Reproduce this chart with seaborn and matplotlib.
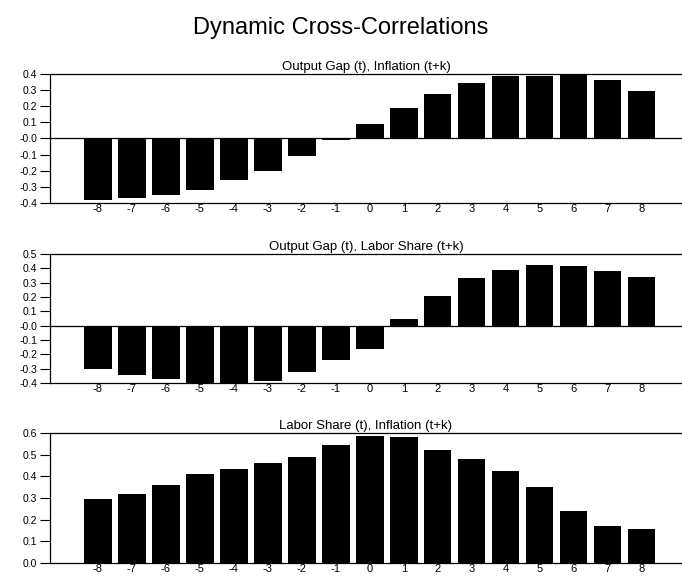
import numpy as np
import pandas as pd
import matplotlib
matplotlib.use("Agg")
import matplotlib.pyplot as plt
import seaborn as sns

lags = list(range(-8, 9))

gap_infl = [-0.38, -0.37, -0.35, -0.32, -0.26, -0.20, -0.11, -0.01, 0.09,
            0.19, 0.275, 0.345, 0.385, 0.385, 0.395, 0.36, 0.295]
gap_ls = [-0.30, -0.345, -0.375, -0.40, -0.40, -0.385, -0.325, -0.24, -0.16,
          0.05, 0.21, 0.335, 0.39, 0.42, 0.415, 0.38, 0.34]
ls_infl = [0.295, 0.32, 0.36, 0.41, 0.435, 0.46, 0.49, 0.545, 0.585,
           0.58, 0.52, 0.48, 0.425, 0.35, 0.24, 0.17, 0.155]

titles = ["Output Gap (t), Inflation (t+k)",
          "Output Gap (t), Labor Share (t+k)",
          "Labor Share (t), Inflation (t+k)"]
yticks1 = [0.4, 0.3, 0.2, 0.1, 0.0, -0.1, -0.2, -0.3, -0.4]
ylabels1 = ["0.4", "0.3", "0.2", "0.1", "-0.0", "-0.1", "-0.2", "-0.3", "-0.4"]
yticks2 = [0.5, 0.4, 0.3, 0.2, 0.1, 0.0, -0.1, -0.2, -0.3, -0.4]
ylabels2 = ["0.5", "0.4", "0.3", "0.2", "0.1", "-0.0", "-0.1", "-0.2", "-0.3", "-0.4"]
yticks3 = [0.6, 0.5, 0.4, 0.3, 0.2, 0.1, 0.0]
ylabels3 = ["0.6", "0.5", "0.4", "0.3", "0.2", "0.1", "0.0"]

sns.set_style("white")
plt.rcParams["font.family"] = ["Liberation Sans", "DejaVu Sans"]
plt.rcParams["text.color"] = "black"
plt.rcParams["xtick.color"] = "black"
plt.rcParams["ytick.color"] = "black"

fig = plt.figure(figsize=(6.82, 5.76), dpi=100)
fig.text(0.5, 0.951, "Dynamic Cross-Correlations", ha="center", va="center",
         fontsize=17)

panels = [
    (gap_infl, (-0.4, 0.4), yticks1, ylabels1, [0.0733, 0.6476, 0.9267, 0.224]),
    (gap_ls, (-0.4, 0.5), yticks2, ylabels2, [0.0733, 0.335, 0.9267, 0.224]),
    (ls_infl, (0.0, 0.6), yticks3, ylabels3, [0.0733, 0.0226, 0.9267, 0.2257]),
]

for (vals, ylim, yt, yl, pos), title in zip(panels, titles):
    ax = fig.add_axes(pos)
    df = pd.DataFrame({"k": [str(l) for l in lags], "r": vals})
    sns.barplot(data=df, x="k", y="r", color="black", width=0.8,
                saturation=1, edgecolor="none", ax=ax)
    ax.set_xlim(-1.41, 17.18)
    ax.set_ylim(*ylim)
    ax.set_yticks(yt)
    ax.set_yticklabels(yl, fontsize=7.5)
    ax.tick_params(axis="x", labelsize=8, length=0, pad=1)
    ax.tick_params(axis="y", length=7, width=0.8, direction="out", left=True, pad=2)
    ax.set_xlabel("")
    ax.set_ylabel("")
    ax.set_title(title, fontsize=9.5, pad=3)
    if ylim[0] < 0:
        ax.axhline(0, color="black", lw=0.9)
    for s in ["left", "top", "bottom"]:
        ax.spines[s].set_color("black")
        ax.spines[s].set_linewidth(0.9)
    ax.spines["right"].set_visible(False)

fig.savefig("out.png", dpi=100)
